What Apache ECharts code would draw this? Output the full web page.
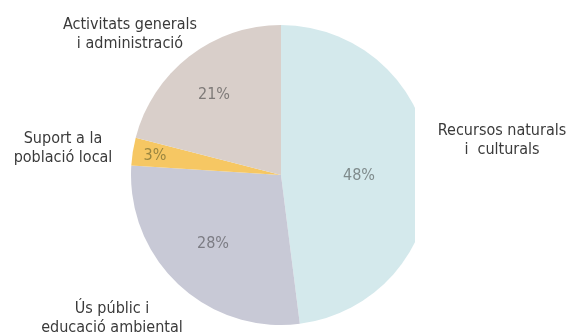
<!DOCTYPE html>
<html>
<head>
<meta charset="utf-8">
<script src="https://cdn.jsdelivr.net/npm/echarts@6/dist/echarts.min.js"></script>
<style>html,body{margin:0;padding:0;background:#fff;}#c{width:569px;height:333px;}</style>
</head>
<body>
<div id="c"></div>
<script>
// Data
const categories = ['Recursos naturals\ni  culturals', 'Ús públic i\neducació ambiental', 'Suport a la\npoblació local', 'Activitats generals\ni administració'];
const values = [48, 28, 3, 21];
const colors = ['#d4e9ec', '#c8c9d6', '#f6c763', '#d9cfca'];

// Label placement (layout only)
const pctPos = [[359, 176], [213, 244], [155, 156], [214, 95]];
const namePos = [[502, 140], [112, 318], [63, 148], [130, 34]];
const pctColors = ['#7f8b8c', '#7c7c84', '#9a8640', '#7e7a78'];

const chart = echarts.init(document.getElementById('c'), null, {renderer: 'canvas'});
const dataArr = categories.map((n, i) => ({name: n, value: values[i], itemStyle: {color: colors[i]}}));
const FONT = '"DejaVu Sans Condensed", "DejaVu Sans", sans-serif';

chart.setOption({
  backgroundColor: '#ffffff',
  animation: false,
  series: [
    {
      type: 'pie',
      center: [281, 175],
      radius: 150,
      startAngle: 90,
      clockwise: true,
      silent: true,
      data: dataArr.map((d, i) => Object.assign({}, d, {label: {color: pctColors[i]}})),
      label: {
        show: true,
        position: 'inside',
        formatter: p => p.value + '%',
        fontFamily: FONT,
        fontSize: 16,
        color: '#808080',
        overflow: 'none'
      },
      labelLine: {show: false},
      labelLayout: p => ({x: pctPos[p.dataIndex][0], y: pctPos[p.dataIndex][1], align: 'center', verticalAlign: 'middle'})
    },
    {
      type: 'pie',
      center: [281, 175],
      radius: 150,
      startAngle: 90,
      clockwise: true,
      silent: true,
      z: 1,
      data: categories.map((n, i) => ({name: n, value: values[i]})),
      itemStyle: {color: 'rgba(0,0,0,0)'},
      label: {
        show: true,
        position: 'outside',
        formatter: '{b}',
        fontFamily: FONT,
        fontSize: 16,
        lineHeight: 19,
        color: '#3a3a3a',
        align: 'center',
        overflow: 'none',
        width: 300
      },
      labelLine: {show: false},
      labelLayout: p => ({x: namePos[p.dataIndex][0], y: namePos[p.dataIndex][1], align: 'center', verticalAlign: 'middle'})
    }
  ],
  graphic: [
    {type: 'rect', z: 100, shape: {x: 415, y: 0, width: 17, height: 333}, style: {fill: '#ffffff'}}
  ]
});
</script>
</body>
</html>
